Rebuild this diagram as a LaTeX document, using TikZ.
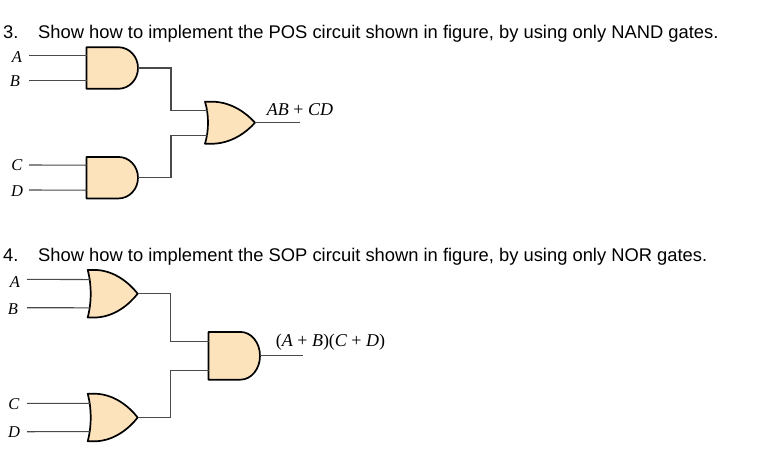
\documentclass[tikz,border=0pt]{standalone}
\usepackage{fontspec}
\setmainfont{Liberation Sans}
\newfontfamily\gatefont{Liberation Serif}
\usetikzlibrary{positioning}
\definecolor{gatefill}{HTML}{FCE3BB}
\definecolor{wirecol}{HTML}{4A4A4A}
\newcommand{\varlabel}[1]{{\itshape #1}}
\tikzset{
        wire/.style={wirecol, line width=1.1pt},
        gate/.style={draw, line width=1.7pt, fill=gatefill, line join=round},
        heading/.style={inner sep=0pt, anchor=base west, font=\fontsize{18.35}{20}\selectfont},
        inlabel/.style={inner sep=0pt, font=\fontsize{16.5}{18}\selectfont\gatefont\itshape},
        outlabel/.style={inner sep=0pt, font=\fontsize{18}{20}\selectfont\gatefont},
        andgate/.pic={
                \path[gate] (0,-20.75) -- (32,-20.75) arc[start angle=-90, end angle=90, x radius=19.5, y radius=20.75] -- (0,20.75) -- cycle;
                \coordinate (-in1) at (0,-12.5);
                \coordinate (-in2) at (0,12.5);
                \coordinate (-out) at (51.5,0);
        },
        orgate/.pic={
                \path[gate] (0,-21) -- (9,-21) .. controls (27,-20) and (41,-10) .. (50,0)
                        .. controls (41,10) and (27,20) .. (9,21) -- (0,21)
                        .. controls (4,8) and (4,-8) .. (0,-21) -- cycle;
                \coordinate (-in1) at (2.5,-12.5);
                \coordinate (-in2) at (2.5,12.5);
                \coordinate (-out) at (50,0);
        }
        }

\begin{document}
\begin{tikzpicture}[x=1pt, y=-1pt]
        \useasboundingbox (0,0) rectangle (770,453);
        % question 3
        \node[heading] (n3) at (3,38) {3.};
        \node[heading] (q3) at (38,38) {Show how to implement the POS circuit shown in figure, by using only NAND gates.};
        \node[inlabel] (a3) at (17,57) {A};
        \node[inlabel] (b3) at (15,81) {B};
        \node[inlabel] (c3) at (17,165) {C};
        \node[inlabel] (d3) at (17,191) {D};
        \coordinate (wa3) at (29,55.5);
        \coordinate (wb3) at (29,80.5);
        \coordinate (wc3) at (29,165);
        \coordinate (wd3) at (29,190);
        \coordinate (out3) at (300,122.7);
        \node[outlabel, above=7pt of out3, anchor=base] (f3) {\varlabel{AB} + \varlabel{CD}};
        \pic (g1) at (86.5,68) {andgate};
        \pic (g2) at (86.5,177.7) {andgate};
        \pic (g3) at (205,122.7) {orgate};
        \draw[wire] (wa3) -- (g1-in1);
        \draw[wire] (wb3) -- (g1-in2);
        \draw[wire] (wc3) -- (g2-in1);
        \draw[wire] (wd3) -- (g2-in2);
        \draw[wire] (g1-out) -- ++(33,0) |- (g3-in1);
        \draw[wire] (g2-out) -- ++(33,0) |- (g3-in2);
        \draw[wire] (g3-out) -- (out3);
        % question 4
        \node[heading] (n4) at (3,261) {4.};
        \node[heading] (q4) at (38,261) {Show how to implement the SOP circuit shown in figure, by using only NOR gates.};
        \node[inlabel] (a4) at (15,282) {A};
        \node[inlabel] (b4) at (13,309) {B};
        \node[inlabel] (c4) at (14,404) {C};
        \node[inlabel] (d4) at (14,432) {D};
        \coordinate (wa4) at (27,279.3);
        \coordinate (wb4) at (27,307.7);
        \coordinate (wc4) at (27,403.3);
        \coordinate (wd4) at (27,431.7);
        \coordinate (out4) at (303,355.8);
        \node[outlabel, above=9.3pt of out4, xshift=27.5pt, anchor=base] (f4) {(\varlabel{A} + \varlabel{B})(\varlabel{C} + \varlabel{D})};
        \pic[yscale=1.13] (h1) at (87.7,293.7) {orgate};
        \pic[yscale=1.13] (h2) at (87.7,417.5) {orgate};
        \pic[yscale=1.15] (h3) at (208.5,355.8) {andgate};
        \draw[wire] (wa4) -- (h1-in1);
        \draw[wire] (wb4) -- (h1-in2);
        \draw[wire] (wc4) -- (h2-in1);
        \draw[wire] (wd4) -- (h2-in2);
        \draw[wire] (h1-out) -- ++(33,0) |- (h3-in1);
        \draw[wire] (h2-out) -- ++(33,0) |- (h3-in2);
        \draw[wire] (h3-out) -- (out4);
\end{tikzpicture}
\end{document}
